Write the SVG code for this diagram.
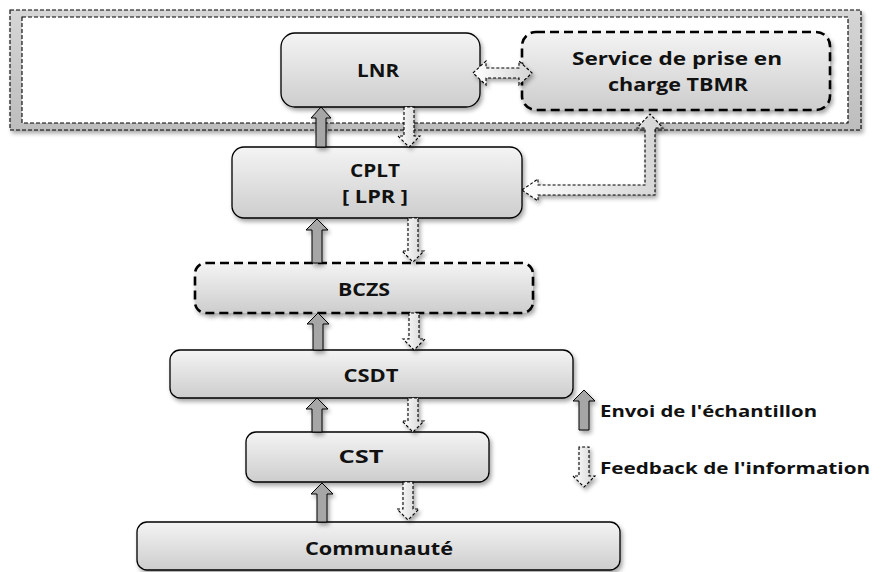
<svg xmlns="http://www.w3.org/2000/svg" width="872" height="572" viewBox="0 0 872 572">
  <style>
    .lbl { font-family: "Open Sans", "Liberation Sans", sans-serif; font-weight: bold; font-size: 18px; fill: #111; text-anchor: middle; }
    .leg { font-family: "Open Sans", "Liberation Sans", sans-serif; font-weight: bold; font-size: 16px; fill: #111; }
    .box { fill: url(#boxFill); stroke: #000; stroke-width: 1.3; filter: url(#shadow); }
    .dbox { fill: url(#boxFill); stroke: #000; stroke-width: 2.6; stroke-dasharray: 9 5; filter: url(#shadow); }
    .frame { stroke: #000; stroke-width: 1.1; stroke-dasharray: 4 2; }
    .send { fill: #a6a6a6; stroke: #000; stroke-width: 1; filter: url(#shadow); }
    .back { fill: url(#backFill); stroke: #000; stroke-width: 1.1; stroke-dasharray: 3 2; filter: url(#shadow); }
  </style>
  <defs>
    <linearGradient id="boxFill" x1="0" y1="0" x2="0" y2="1">
      <stop offset="0" stop-color="#f4f4f4"/>
      <stop offset="1" stop-color="#cdcdcd"/>
    </linearGradient>
    <linearGradient id="bandFill" x1="0" y1="0" x2="0" y2="1">
      <stop offset="0" stop-color="#d6d6d6"/>
      <stop offset="1" stop-color="#bdbdbd"/>
    </linearGradient>
    <linearGradient id="backFill" x1="0" y1="0" x2="1" y2="0">
      <stop offset="0" stop-color="#ffffff"/>
      <stop offset="1" stop-color="#d4d4d4"/>
    </linearGradient>
    <filter id="shadow" x="-10%" y="-10%" width="130%" height="140%">
      <feDropShadow dx="2" dy="3" stdDeviation="2" flood-color="#000" flood-opacity="0.35"/>
    </filter>
  </defs>

  <!-- outer frame around the reference level -->
  <g id="frame">
    <rect class="frame" x="10" y="10" width="851" height="120" fill="url(#bandFill)" filter="url(#shadow)"/>
    <rect class="frame" x="22" y="17" width="826" height="106" fill="#ffffff"/>
  </g>

  <g id="lnr">
    <rect class="box" x="281" y="33" width="199" height="74" rx="14"/>
    <text class="lbl" x="378" y="77" textLength="42" lengthAdjust="spacingAndGlyphs">LNR</text>
  </g>

  <g id="tbmr">
    <rect class="dbox" x="522" y="32" width="308" height="78" rx="14"/>
    <text class="lbl" x="677" y="65" textLength="210" lengthAdjust="spacingAndGlyphs">Service de prise en</text>
    <text class="lbl" x="678" y="91" textLength="140" lengthAdjust="spacingAndGlyphs">charge TBMR</text>
  </g>

  <g id="cplt">
    <rect class="box" x="232" y="147" width="290" height="71" rx="12"/>
    <text class="lbl" x="375" y="177" textLength="50" lengthAdjust="spacingAndGlyphs">CPLT</text>
    <text class="lbl" x="375" y="203" textLength="66" lengthAdjust="spacingAndGlyphs">[ LPR ]</text>
  </g>

  <g id="bczs">
    <rect class="dbox" x="195" y="263" width="338" height="50" rx="11"/>
    <text class="lbl" x="364" y="296" textLength="52" lengthAdjust="spacingAndGlyphs">BCZS</text>
  </g>

  <g id="csdt">
    <rect class="box" x="170" y="350" width="403" height="48" rx="10"/>
    <text class="lbl" x="371" y="382" textLength="55" lengthAdjust="spacingAndGlyphs">CSDT</text>
  </g>

  <g id="cst">
    <rect class="box" x="246" y="432" width="243" height="50" rx="10"/>
    <text class="lbl" x="361" y="463" textLength="45" lengthAdjust="spacingAndGlyphs">CST</text>
  </g>

  <g id="communaute">
    <rect class="box" x="137" y="522" width="483" height="48" rx="10"/>
    <text class="lbl" x="379" y="555" textLength="148" lengthAdjust="spacingAndGlyphs">Communauté</text>
  </g>

  <!-- connectors: solid grey = sample sent up, dashed light = feedback down -->
  <g id="connectors">
    <polygon class="send" points="316,147 316,118 311,118 321,107 331,118 326,118 326,147"/>
    <polygon class="back" points="404,107 404,136 398,136 409,147 420,136 414,136 414,107"/>

    <polygon class="send" points="312,263 312,230 306,230 317,219 328,230 322,230 322,263"/>
    <polygon class="back" points="408,218 408,251 402,251 413,262 424,251 418,251 418,218"/>

    <polygon class="send" points="313,350 313,324 307,324 318,313 329,324 323,324 323,350"/>
    <polygon class="back" points="409,313 409,339 403,339 414,350 425,339 419,339 419,313"/>

    <polygon class="send" points="312,432 312,409 306,409 317,398 328,409 322,409 322,432"/>
    <polygon class="back" points="408,398 408,421 402,421 413,432 424,421 418,421 418,398"/>

    <polygon class="send" points="317,522 317,494 311,494 322,483 333,494 327,494 327,522"/>
    <polygon class="back" points="403,482 403,509 397,509 408,520 419,509 413,509 413,482"/>

    <!-- LNR <-> TBMR service -->
    <polygon class="back" points="473,73 486,61 486,68 519,68 519,61 532,73 519,85 519,78 486,78 486,85"/>

    <!-- CPLT <-> TBMR service (elbow) -->
    <polygon class="back" points="522,190 538,179 538,185 645,185 645,128 637,128 650,114 663,128 655,128 655,195 538,195 538,201"/>
  </g>

  <!-- legend -->
  <g id="legend">
    <polygon class="send" points="579,430 579,401 573,401 584,390 595,401 589,401 589,430"/>
    <text class="leg" x="600" y="417" textLength="217" lengthAdjust="spacingAndGlyphs">Envoi de l'échantillon</text>
    <polygon class="back" points="579,447 579,476 573,476 584,487 595,476 589,476 589,447"/>
    <text class="leg" x="600" y="474" textLength="270" lengthAdjust="spacingAndGlyphs">Feedback de l'information</text>
  </g>
</svg>
